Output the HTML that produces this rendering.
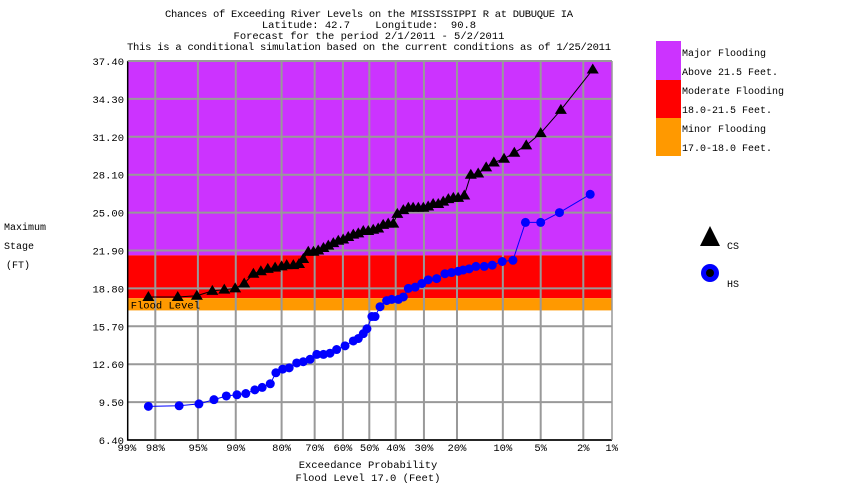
<!DOCTYPE html>
<html><head><meta charset="utf-8"><style>
html,body{margin:0;padding:0;background:#fff;}
svg{display:block;font-family:"Liberation Mono","DejaVu Sans Mono",monospace;}
</style></head><body>
<svg id="chart" width="850" height="500" viewBox="0 0 850 500" xmlns="http://www.w3.org/2000/svg">
<g font-size="10.5" text-anchor="middle" fill="#000">
<text x="369" y="17" textLength="408">Chances of Exceeding River Levels on the MISSISSIPPI R at DUBUQUE IA</text>
<text x="369" y="28" xml:space="preserve">Latitude: 42.7    Longitude:  90.8</text>
<text x="369" y="39">Forecast for the period 2/1/2011 - 5/2/2011</text>
<text x="369" y="50" textLength="484">This is a conditional simulation based on the current conditions as of 1/25/2011</text>
</g>
<g id="plot"></g>
<g font-size="10" fill="#000">
<text x="4" y="230">Maximum</text><text x="4" y="249">Stage</text><text x="6" y="268">(FT)</text>
</g>
<g font-size="10.5" fill="#000" text-anchor="middle">
<text x="368" y="468">Exceedance Probability</text>
<text x="368" y="481">Flood Level 17.0 (Feet)</text>
</g>
<g font-size="10" fill="#000">
<rect x="656" y="41" width="25" height="39" fill="#cc33ff"/>
<rect x="656" y="80" width="25" height="38" fill="#ff0000"/>
<rect x="656" y="118" width="25" height="38" fill="#ff9900"/>
<text x="682" y="56">Major Flooding</text><text x="682" y="75">Above 21.5 Feet.</text>
<text x="682" y="94">Moderate Flooding</text><text x="682" y="113">18.0-21.5 Feet.</text>
<text x="682" y="132">Minor Flooding</text><text x="682" y="151">17.0-18.0 Feet.</text>
</g>
<g font-size="10" fill="#000">
<polygon points="710,226 720,246 700,246" fill="#000"/>
<text x="727" y="249">CS</text>
<circle cx="710" cy="273" r="9" fill="#0000ff"/>
<circle cx="710" cy="273" r="4" fill="#000"/>
<text x="727" y="287">HS</text>
</g>
</svg>
<script>
const yTicks=[37.40,34.30,31.20,28.10,25.00,21.90,18.80,15.70,12.60,9.50,6.40];
const xTicks=[99,98,95,90,80,70,60,50,40,30,20,10,5,2,1];
const bands=[{name:"major",lo:21.5,hi:37.4,c:"#cc33ff"},{name:"moderate",lo:18.0,hi:21.5,c:"#ff0000"},{name:"minor",lo:17.0,hi:18.0,c:"#ff9900"}];
const floodLevel=17.0;
const csProb=[98.3,96.7,95.1,93.4,91.8,90.1,88.5,86.7,85.1,83.5,81.7,80.0,78.6,76.7,75.0,73.7,72.1,70.4,68.8,67.0,65.3,63.5,61.7,59.9,58.0,56.1,54.2,52.3,50.4,48.5,46.6,44.7,42.8,40.9,39.4,37.2,35.4,33.7,31.9,30.2,28.6,27.0,25.4,23.9,22.4,21.0,19.7,18.1,16.5,14.8,13.1,11.6,9.8,8.2,6.6,5.0,3.3,1.6];
const csStage=[18.1,18.1,18.2,18.6,18.7,18.8,19.2,20.0,20.2,20.4,20.5,20.6,20.7,20.7,20.8,21.2,21.8,21.8,21.9,22.1,22.3,22.5,22.7,22.8,23.0,23.2,23.3,23.5,23.5,23.6,23.7,24.0,24.1,24.1,24.9,25.2,25.4,25.4,25.4,25.4,25.5,25.7,25.7,25.9,26.1,26.2,26.2,26.4,28.1,28.2,28.7,29.1,29.4,29.9,30.5,31.5,33.4,36.7];
const hsProb=[98.3,96.6,94.9,93.2,91.5,89.8,88.2,86.4,84.8,82.9,81.5,79.7,77.9,75.7,73.7,71.5,69.3,67.0,64.7,62.3,59.2,56.1,54.2,52.3,50.9,49.0,47.8,45.9,43.4,41.5,39.0,37.2,35.4,33.0,30.7,28.6,25.9,23.4,21.5,19.7,18.4,16.9,15.3,13.5,11.9,10.1,8.4,6.7,5.0,3.4,1.7];
const hsStage=[9.15,9.2,9.35,9.7,10.0,10.1,10.2,10.5,10.7,11.0,11.9,12.2,12.3,12.7,12.8,13.0,13.4,13.4,13.5,13.8,14.1,14.5,14.7,15.1,15.5,16.5,16.5,17.3,17.8,17.9,17.9,18.1,18.8,18.9,19.2,19.5,19.6,20.0,20.1,20.2,20.3,20.4,20.6,20.6,20.7,21.0,21.1,24.2,24.2,25.0,26.5];

const NS="http://www.w3.org/2000/svg";
const plot=document.getElementById('plot');
const L=127.7,R=612,T=61,B=440,CX=369.3,SC=104.2;
const yMin=6.4,yMax=37.4;
function invNorm(p){ // Acklam approximation
 const a=[-39.6968302866538,220.946098424521,-275.928510446969,138.357751867269,-30.6647980661472,2.50662827745924];
 const b=[-54.4760987982241,161.585836858041,-155.698979859887,66.8013118877197,-13.2806815528857];
 const c=[-0.00778489400243029,-0.322396458041136,-2.40075827716184,-2.54973253934373,4.37466414146497,2.93816398269878];
 const d=[0.00778469570904146,0.32246712907004,2.445134137143,3.75440866190742];
 const pl=0.02425;let q,r;
 if(p<pl){q=Math.sqrt(-2*Math.log(p));return (((((c[0]*q+c[1])*q+c[2])*q+c[3])*q+c[4])*q+c[5])/((((d[0]*q+d[1])*q+d[2])*q+d[3])*q+1);}
 if(p>1-pl){q=Math.sqrt(-2*Math.log(1-p));return -(((((c[0]*q+c[1])*q+c[2])*q+c[3])*q+c[4])*q+c[5])/((((d[0]*q+d[1])*q+d[2])*q+d[3])*q+1);}
 q=p-0.5;r=q*q;return (((((a[0]*r+a[1])*r+a[2])*r+a[3])*r+a[4])*r+a[5])*q/(((((b[0]*r+b[1])*r+b[2])*r+b[3])*r+b[4])*r+1);
}
function xs(pct){return CX-SC*invNorm(pct/100);}
function ys(v){return T+(yMax-v)/(yMax-yMin)*(B-T);}
function mk(tag,attrs){const e=document.createElementNS(NS,tag);for(const k in attrs)e.setAttribute(k,attrs[k]);plot.appendChild(e);return e;}

// bands
bands.forEach(b=>{
 const e=mk('rect',{x:L,y:ys(b.hi),width:R-L,height:ys(b.lo)-ys(b.hi),fill:b.c});
 
 
});
// grid
yTicks.forEach(t=>{
 const g=mk('line',{x1:L,x2:R,y1:ys(t),y2:ys(t),stroke:'#999','stroke-width':2});
 
 
 const tx=mk('text',{x:124,y:ys(t)+4,'text-anchor':'end','font-size':10.5,fill:'#000'});
 tx.textContent=t.toFixed(2);
 
 
});
xTicks.forEach(t=>{
 const x=xs(t);
 if(t!==99&&t!==1){
  const g=mk('line',{x1:x,x2:x,y1:T,y2:B,stroke:'#999','stroke-width':2});
  
  
 }
 const tx=mk('text',{x:x,y:B+11,'text-anchor':'middle','font-size':10.5,fill:'#000'});
 tx.textContent=t+'%';
 
 
});
// flood label
const fl=mk('text',{x:L+3,y:ys(floodLevel)-2,'font-size':10.5,fill:'#000'});
fl.textContent='Flood Level';


// axes frame
const ax=mk('path',{d:`M${L},${T}V${B}H${R}`,stroke:'#000','stroke-width':1.5,fill:'none'});


const rb=mk('line',{x1:R,x2:R,y1:T,y2:B,stroke:'#999','stroke-width':1.5});


const tb=mk('line',{x1:L,x2:R,y1:T,y2:T,stroke:'#999','stroke-width':1.5});



// HS series
const hsLine=mk('polyline',{points:hsProb.map((p,i)=>xs(p)+','+ys(hsStage[i])).join(' '),fill:'none',stroke:'#0000ff','stroke-width':1});


hsProb.forEach((p,i)=>{
 const c=mk('circle',{cx:xs(p),cy:ys(hsStage[i]),r:4.5,fill:'#0000ff'});
 
 
});
// CS series
const csLine=mk('polyline',{points:csProb.map((p,i)=>xs(p)+','+ys(csStage[i])).join(' '),fill:'none',stroke:'#000','stroke-width':1});


csProb.forEach((p,i)=>{
 const x=xs(p),y=ys(csStage[i]);
 const t=mk('polygon',{points:`${x},${y-6} ${x+6},${y+4} ${x-6},${y+4}`,fill:'#000'});
 
 
});
</script>
</body></html>
